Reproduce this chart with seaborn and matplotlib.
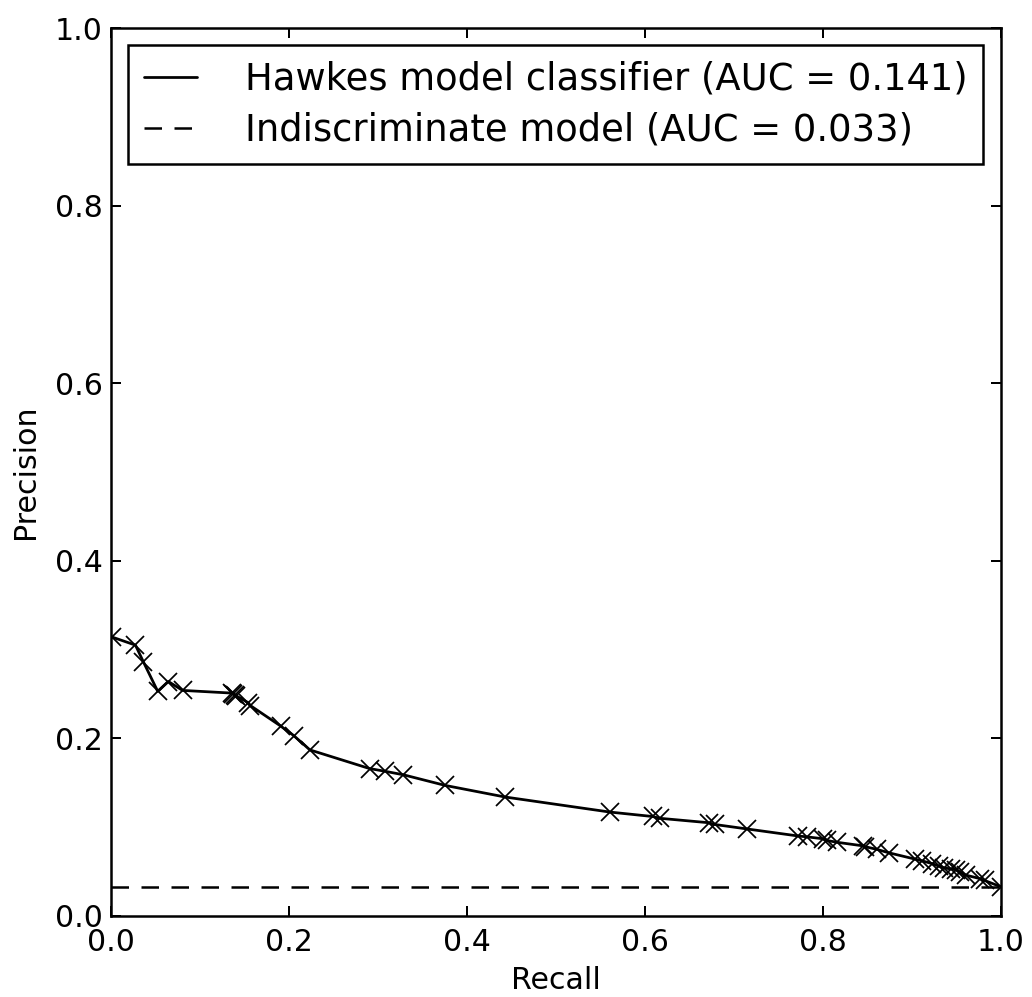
import matplotlib
matplotlib.use("Agg")
import matplotlib.pyplot as plt
import seaborn as sns
import pandas as pd

recall = [0.002, 0.028, 0.037, 0.053, 0.065, 0.081, 0.136, 0.138, 0.140, 0.141,
          0.155, 0.157, 0.191, 0.206, 0.224, 0.291, 0.308, 0.329, 0.376, 0.443,
          0.561, 0.609, 0.617, 0.672, 0.679, 0.715, 0.773, 0.783, 0.800, 0.805,
          0.816, 0.845, 0.848, 0.861, 0.875, 0.904, 0.912, 0.923, 0.931, 0.937,
          0.944, 0.950, 0.955, 0.961, 0.977, 0.982, 1.000]
precision = [0.314, 0.305, 0.286, 0.253, 0.264, 0.254, 0.251, 0.250, 0.249, 0.248,
             0.240, 0.237, 0.214, 0.203, 0.187, 0.166, 0.163, 0.159, 0.147, 0.134,
             0.117, 0.112, 0.110, 0.105, 0.103, 0.098, 0.090, 0.089, 0.087, 0.085,
             0.083, 0.079, 0.078, 0.075, 0.071, 0.064, 0.062, 0.059, 0.056, 0.054,
             0.053, 0.052, 0.049, 0.046, 0.042, 0.040, 0.033]
baseline_x = [0.0, 1.0]
baseline_y = [0.033, 0.033]
labels = ["Hawkes model classifier (AUC = 0.141)", "Indiscriminate model (AUC = 0.033)"]

sns.set_style("white")
plt.rcParams.update({
    "font.family": ["DejaVu Sans"],
    "text.color": "k", "axes.labelcolor": "k",
    "xtick.direction": "in", "ytick.direction": "in",
    "xtick.top": True, "ytick.right": True,
    "xtick.bottom": True, "ytick.left": True,
    "xtick.major.size": 4, "ytick.major.size": 4,
    "xtick.major.width": 0.8, "ytick.major.width": 0.8,
    "xtick.color": "k", "ytick.color": "k",
    "axes.edgecolor": "k", "axes.linewidth": 1.0,
    "xtick.major.pad": 5, "ytick.major.pad": 3,
})

dpi = 180
fig = plt.figure(figsize=(1032 / dpi, 997 / dpi), dpi=dpi)
ax = fig.add_axes([0.1071, 0.0813, 0.9695 - 0.1071, 0.9719 - 0.0813])

df = pd.DataFrame({"Recall": recall, "Precision": precision})
sns.lineplot(data=df, x="Recall", y="Precision", sort=False, estimator=None,
             color="k", lw=1.1, marker="x", markersize=7.5, markeredgewidth=0.7,
             markeredgecolor="k", ax=ax, label=labels[0])
dfb = pd.DataFrame({"x": baseline_x, "y": baseline_y})
sns.lineplot(data=dfb, x="x", y="y", color="k", lw=1.0, ax=ax, label=labels[1])
ax.lines[-1].set_dashes((7, 5))

ax.set_xlim(0, 1)
ax.set_ylim(0, 1)
ax.set_xticks([0.0, 0.2, 0.4, 0.6, 0.8, 1.0])
ax.set_yticks([0.0, 0.2, 0.4, 0.6, 0.8, 1.0])
ax.set_xticklabels(["0.0", "0.2", "0.4", "0.6", "0.8", "1.0"])
ax.set_yticklabels(["0.0", "0.2", "0.4", "0.6", "0.8", "1.0"])
ax.tick_params(labelsize=12, labelcolor="k")
ax.set_xlabel("Recall", fontsize=12, color="k", labelpad=3.5)
ax.set_ylabel("Precision", fontsize=12, color="k", labelpad=6)
for s in ax.spines.values():
    s.set_visible(True)

leg = ax.legend(loc="upper center", fontsize=14.75, frameon=True, fancybox=False,
                edgecolor="k", framealpha=1, handlelength=1.45, handletextpad=1.28,
                borderpad=0.43, labelspacing=0.38, borderaxespad=0.45)
leg.get_frame().set_linewidth(1.0)
for h in leg.legend_handles:
    h.set_marker("")
for t in leg.get_texts():
    t.set_color("k")

fig.savefig("out.png", dpi=dpi)
